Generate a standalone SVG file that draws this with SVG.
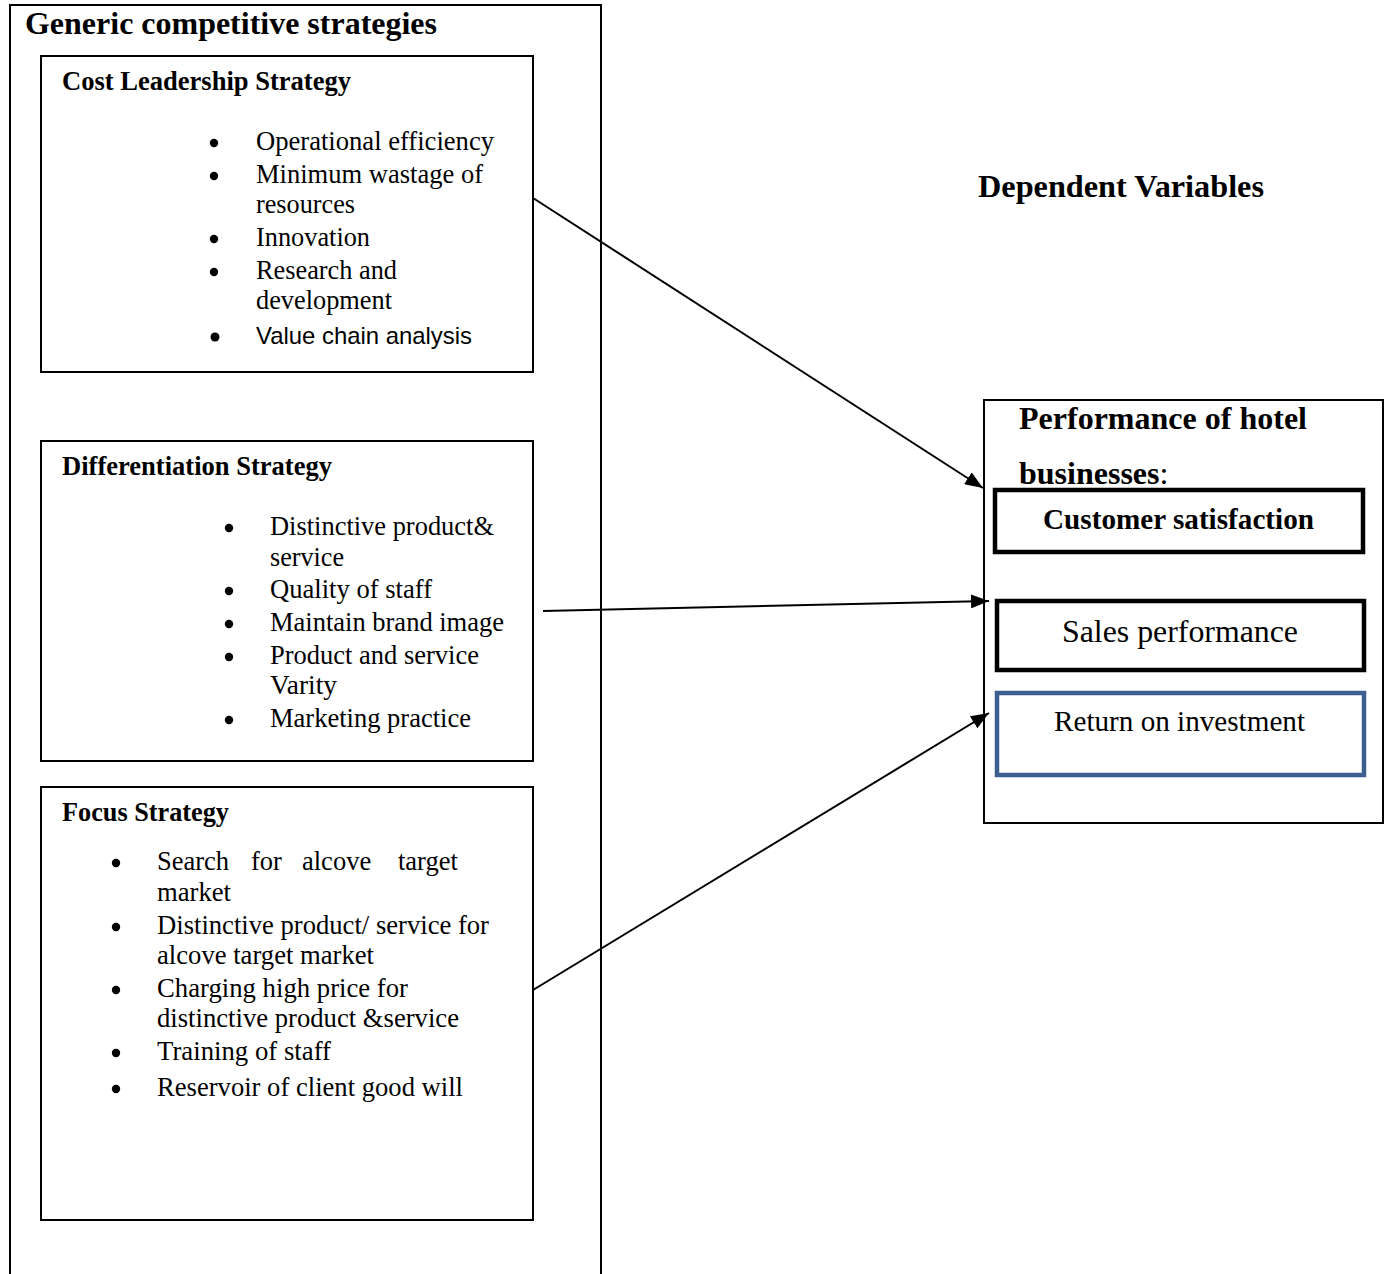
<svg xmlns="http://www.w3.org/2000/svg" width="1390" height="1274" viewBox="0 0 1390 1274">
<style>
.box{fill:none;stroke:#000;stroke-width:2}
.thick{fill:none;stroke:#000;stroke-width:4.5}
.blue{fill:none;stroke:#3D5F8F;stroke-width:4.5}
.t{font-family:"Liberation Serif","Times New Roman",serif;fill:#000}
.b{font-weight:bold}
.h{font-family:"Liberation Serif","Times New Roman",serif;font-size:26.5px;font-weight:bold;fill:#000}
.li{font-family:"Liberation Serif","Times New Roman",serif;font-size:26.5px;fill:#000}
.sans{font-family:"Liberation Sans",Arial,sans-serif;font-size:24px;fill:#000}
.dot{fill:#000}
.conn{stroke:#000;stroke-width:2;fill:none}
</style>
<defs>
<marker id="ah" markerUnits="userSpaceOnUse" markerWidth="18" markerHeight="14" refX="18" refY="7" orient="auto">
<path d="M0,0 L18,7 L0,14 Z" fill="#000"/>
</marker>
</defs>
<rect width="1390" height="1274" fill="#fff"/>
<g id="generic">
<path class="box" d="M10,1274 V5 H601 V1274"/>
<text class="t b" x="25" y="34" font-size="32" textLength="412" lengthAdjust="spacingAndGlyphs">Generic competitive strategies</text>
</g>
<g id="cost">
<rect class="box" x="41" y="56" width="492" height="316"/>
<text class="h" x="62" y="90" textLength="289" lengthAdjust="spacingAndGlyphs">Cost Leadership Strategy</text>
<g class="dot">
<circle cx="214" cy="143" r="4.2"/><circle cx="214" cy="176" r="4.2"/><circle cx="214" cy="239" r="4.2"/><circle cx="214" cy="272" r="4.2"/><circle cx="215" cy="337" r="4.5"/>
</g>
<g class="li">
<text x="256" y="150" textLength="238" lengthAdjust="spacingAndGlyphs">Operational efficiency</text>
<text x="256" y="183" textLength="227" lengthAdjust="spacingAndGlyphs">Minimum wastage of</text>
<text x="256" y="213" textLength="99" lengthAdjust="spacingAndGlyphs">resources</text>
<text x="256" y="246" textLength="114" lengthAdjust="spacingAndGlyphs">Innovation</text>
<text x="256" y="279" textLength="141" lengthAdjust="spacingAndGlyphs">Research and</text>
<text x="256" y="309" textLength="136" lengthAdjust="spacingAndGlyphs">development</text>
</g>
<text class="sans" x="256" y="344" textLength="216" lengthAdjust="spacingAndGlyphs">Value chain analysis</text>
</g>
<g id="differentiation">
<rect class="box" x="41" y="441" width="492" height="320"/>
<text class="h" x="62" y="475" textLength="270" lengthAdjust="spacingAndGlyphs">Differentiation Strategy</text>
<g class="dot">
<circle cx="229" cy="528" r="4.2"/><circle cx="229" cy="591" r="4.2"/><circle cx="229" cy="624" r="4.2"/><circle cx="229" cy="657" r="4.2"/><circle cx="229" cy="720" r="4.2"/>
</g>
<g class="li">
<text x="270" y="535" textLength="224" lengthAdjust="spacingAndGlyphs">Distinctive product&amp;</text>
<text x="270" y="566" textLength="74" lengthAdjust="spacingAndGlyphs">service</text>
<text x="270" y="598" textLength="162" lengthAdjust="spacingAndGlyphs">Quality of staff</text>
<text x="270" y="631" textLength="234" lengthAdjust="spacingAndGlyphs">Maintain brand image</text>
<text x="270" y="664" textLength="209" lengthAdjust="spacingAndGlyphs">Product and service</text>
<text x="270" y="694" textLength="67" lengthAdjust="spacingAndGlyphs">Varity</text>
<text x="270" y="727" textLength="201" lengthAdjust="spacingAndGlyphs">Marketing practice</text>
</g>
</g>
<g id="focus">
<rect class="box" x="41" y="787" width="492" height="433"/>
<text class="h" x="62" y="821" textLength="167" lengthAdjust="spacingAndGlyphs">Focus Strategy</text>
<g class="dot">
<circle cx="116" cy="863" r="4.2"/><circle cx="116" cy="927" r="4.2"/><circle cx="116" cy="990" r="4.2"/><circle cx="116" cy="1053" r="4.2"/><circle cx="116" cy="1089" r="4.2"/>
</g>
<g class="li">
<text y="870"><tspan x="157">Search</tspan><tspan x="251">for</tspan><tspan x="302">alcove</tspan><tspan x="398">target</tspan></text>
<text x="157" y="901" textLength="74" lengthAdjust="spacingAndGlyphs">market</text>
<text x="157" y="934" textLength="332" lengthAdjust="spacingAndGlyphs">Distinctive product/ service for</text>
<text x="157" y="964" textLength="217" lengthAdjust="spacingAndGlyphs">alcove target market</text>
<text x="157" y="997" textLength="251" lengthAdjust="spacingAndGlyphs">Charging high price for</text>
<text x="157" y="1027" textLength="302" lengthAdjust="spacingAndGlyphs">distinctive product &amp;service</text>
<text x="157" y="1060" textLength="174" lengthAdjust="spacingAndGlyphs">Training of staff</text>
<text x="157" y="1096" textLength="306" lengthAdjust="spacingAndGlyphs">Reservoir of client good will</text>
</g>
</g>
<g id="dependent-label">
<text class="t b" x="978" y="197" font-size="32" textLength="286" lengthAdjust="spacingAndGlyphs">Dependent Variables</text>
</g>
<g id="performance">
<rect class="box" x="984" y="400" width="399" height="423"/>
<text class="t b" x="1019" y="429" font-size="32" textLength="288" lengthAdjust="spacingAndGlyphs">Performance of hotel</text>
<text class="t" x="1019" y="484" font-size="32"><tspan font-weight="bold">businesses</tspan>:</text>
</g>
<g id="customer-satisfaction">
<rect class="thick" x="995" y="490" width="368" height="62"/>
<text class="t b" x="1043" y="529" font-size="29" textLength="271" lengthAdjust="spacingAndGlyphs">Customer satisfaction</text>
</g>
<g id="sales-performance">
<rect class="thick" x="997" y="601" width="367" height="69"/>
<text class="t" x="1062" y="642" font-size="32" textLength="236" lengthAdjust="spacingAndGlyphs">Sales performance</text>
</g>
<g id="roi">
<rect class="blue" x="997" y="693" width="367" height="82"/>
<text class="t" x="1054" y="731" font-size="29" textLength="251" lengthAdjust="spacingAndGlyphs">Return on investment</text>
</g>
<g id="connectors">
<line class="conn" x1="533" y1="198" x2="983" y2="488" marker-end="url(#ah)"/>
<line class="conn" x1="543" y1="611" x2="989" y2="601" marker-end="url(#ah)"/>
<line class="conn" x1="533" y1="990" x2="989" y2="713" marker-end="url(#ah)"/>
</g>
</svg>
